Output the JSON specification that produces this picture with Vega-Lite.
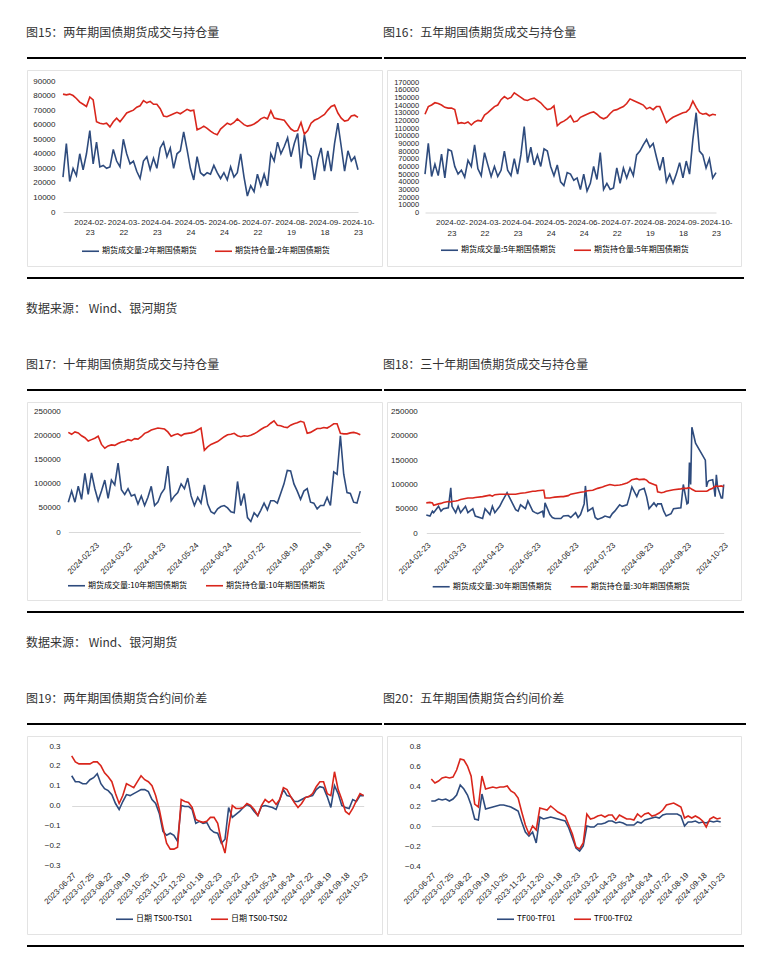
{
  "$schema": "https://vega.github.io/schema/vega-lite/v6.json",
  "padding": {"left": 26, "top": 27, "right": 15, "bottom": 10},
  "background": "white",
  "config": {
    "view": {"stroke": null},
    "font": "Liberation Sans",
    "title": {"anchor": "start", "font": "Noto Sans CJK SC", "fontSize": 12, "fontWeight": "normal", "color": "#333333", "offset": 17},
    "axis": {"labelFont": "Liberation Sans", "labelFontSize": 8, "labelColor": "#262626", "domain": false, "ticks": false, "grid": false, "title": null, "labelOverlap": false},
    "legend": {"symbolType": "stroke", "symbolSize": 289, "symbolStrokeWidth": 2, "labelFont": "Noto Sans CJK SC", "labelFontSize": 8, "labelColor": "#000000", "labelOffset": 2, "columnPadding": 14, "padding": 0},
    "line": {"strokeWidth": 1.6}
  },
  "datasets": {
    "vol": [
      {"d":"2024-01-24","v2":24000,"o2":81000,"v5":50000,"o5":128000,"v10":62000,"o10":207000},
      {"d":"2024-01-26","v2":47000,"o2":80500,"v5":90000,"o5":138000,"v10":85000,"o10":203000},
      {"d":"2024-01-30","v2":21000,"o2":81000,"v5":47000,"o5":140000,"v10":62000,"o10":208000},
      {"d":"2024-02-01","v2":30000,"o2":80000,"v5":63000,"o5":143000,"v10":95000,"o10":206000},
      {"d":"2024-02-05","v2":25000,"o2":78000,"v5":48000,"o5":142000,"v10":68000,"o10":200000},
      {"d":"2024-02-07","v2":40000,"o2":75500,"v5":76000,"o5":140000,"v10":122000,"o10":196000},
      {"d":"2024-02-19","v2":29000,"o2":74000,"v5":45000,"o5":137000,"v10":78000,"o10":189000},
      {"d":"2024-02-21","v2":40000,"o2":72500,"v5":82000,"o5":136000,"v10":123000,"o10":192000},
      {"d":"2024-02-23","v2":56000,"o2":79000,"v5":80000,"o5":136000,"v10":90000,"o10":195000},
      {"d":"2024-02-27","v2":33000,"o2":77000,"v5":60000,"o5":134000,"v10":65000,"o10":199000},
      {"d":"2024-02-29","v2":48000,"o2":62000,"v5":50000,"o5":116000,"v10":85000,"o10":182000},
      {"d":"2024-03-04","v2":31000,"o2":61000,"v5":55000,"o5":117000,"v10":108000,"o10":174000},
      {"d":"2024-03-06","v2":32000,"o2":60500,"v5":46000,"o5":116000,"v10":70000,"o10":179000},
      {"d":"2024-03-08","v2":30000,"o2":61000,"v5":68000,"o5":118000,"v10":108000,"o10":181000},
      {"d":"2024-03-12","v2":31000,"o2":58500,"v5":60000,"o5":114000,"v10":98000,"o10":180000},
      {"d":"2024-03-14","v2":43000,"o2":62000,"v5":88000,"o5":118000,"v10":143000,"o10":184000},
      {"d":"2024-03-18","v2":35000,"o2":64500,"v5":57000,"o5":120000,"v10":88000,"o10":187000},
      {"d":"2024-03-20","v2":31000,"o2":62000,"v5":48000,"o5":119000,"v10":78000,"o10":188000},
      {"d":"2024-03-22","v2":50000,"o2":65000,"v5":78000,"o5":127000,"v10":90000,"o10":192000},
      {"d":"2024-03-26","v2":40000,"o2":68000,"v5":62000,"o5":130000,"v10":75000,"o10":190000},
      {"d":"2024-03-28","v2":33000,"o2":69000,"v5":47000,"o5":134000,"v10":78000,"o10":194000},
      {"d":"2024-04-01","v2":35000,"o2":70000,"v5":60000,"o5":138000,"v10":58000,"o10":193000},
      {"d":"2024-04-03","v2":28000,"o2":72000,"v5":47000,"o5":140000,"v10":75000,"o10":198000},
      {"d":"2024-04-09","v2":23000,"o2":73000,"v5":55000,"o5":147000,"v10":55000,"o10":205000},
      {"d":"2024-04-11","v2":35000,"o2":76500,"v5":80000,"o5":151000,"v10":72000,"o10":208000},
      {"d":"2024-04-15","v2":38000,"o2":75000,"v5":55000,"o5":148000,"v10":95000,"o10":212000},
      {"d":"2024-04-17","v2":29000,"o2":76000,"v5":48000,"o5":150000,"v10":55000,"o10":214000},
      {"d":"2024-04-19","v2":37000,"o2":74000,"v5":70000,"o5":156000,"v10":62000,"o10":216000},
      {"d":"2024-04-23","v2":30000,"o2":74000,"v5":50000,"o5":153000,"v10":80000,"o10":215000},
      {"d":"2024-04-25","v2":44000,"o2":71000,"v5":75000,"o5":150000,"v10":90000,"o10":214000},
      {"d":"2024-04-29","v2":48000,"o2":66000,"v5":112000,"o5":147000,"v10":137000,"o10":208000},
      {"d":"2024-05-06","v2":38000,"o2":65500,"v5":65000,"o5":146000,"v10":65000,"o10":199000},
      {"d":"2024-05-08","v2":44000,"o2":66500,"v5":85000,"o5":148000,"v10":75000,"o10":202000},
      {"d":"2024-05-10","v2":30000,"o2":67500,"v5":62000,"o5":149000,"v10":82000,"o10":204000},
      {"d":"2024-05-14","v2":40000,"o2":68500,"v5":75000,"o5":146000,"v10":100000,"o10":200000},
      {"d":"2024-05-16","v2":42000,"o2":67500,"v5":60000,"o5":143000,"v10":90000,"o10":204000},
      {"d":"2024-05-20","v2":55000,"o2":69000,"v5":83000,"o5":138000,"v10":112000,"o10":205000},
      {"d":"2024-05-22","v2":43000,"o2":70500,"v5":80000,"o5":134000,"v10":75000,"o10":206000},
      {"d":"2024-05-24","v2":30000,"o2":69500,"v5":60000,"o5":135000,"v10":55000,"o10":208000},
      {"d":"2024-05-28","v2":22000,"o2":70000,"v5":48000,"o5":139000,"v10":72000,"o10":212000},
      {"d":"2024-05-30","v2":38000,"o2":56500,"v5":62000,"o5":113000,"v10":60000,"o10":216000},
      {"d":"2024-06-03","v2":27000,"o2":57500,"v5":40000,"o5":117000,"v10":98000,"o10":170000},
      {"d":"2024-06-05","v2":25000,"o2":59000,"v5":35000,"o5":119000,"v10":58000,"o10":177000},
      {"d":"2024-06-07","v2":27000,"o2":57500,"v5":52000,"o5":122000,"v10":42000,"o10":182000},
      {"d":"2024-06-12","v2":26000,"o2":55500,"v5":50000,"o5":126000,"v10":38000,"o10":185000},
      {"d":"2024-06-14","v2":32000,"o2":54000,"v5":42000,"o5":118000,"v10":48000,"o10":188000},
      {"d":"2024-06-18","v2":27000,"o2":53000,"v5":45000,"o5":119000,"v10":53000,"o10":193000},
      {"d":"2024-06-20","v2":23000,"o2":57000,"v5":30000,"o5":124000,"v10":55000,"o10":198000},
      {"d":"2024-06-24","v2":27000,"o2":59000,"v5":50000,"o5":126000,"v10":50000,"o10":202000},
      {"d":"2024-06-26","v2":22000,"o2":61000,"v5":28000,"o5":128000,"v10":42000,"o10":203000},
      {"d":"2024-06-28","v2":31000,"o2":60000,"v5":38000,"o5":130000,"v10":40000,"o10":205000},
      {"d":"2024-07-02","v2":24000,"o2":61500,"v5":60000,"o5":131000,"v10":105000,"o10":200000},
      {"d":"2024-07-04","v2":27000,"o2":64000,"v5":43000,"o5":128000,"v10":55000,"o10":198000},
      {"d":"2024-07-08","v2":40000,"o2":62000,"v5":78000,"o5":124000,"v10":80000,"o10":200000},
      {"d":"2024-07-10","v2":24000,"o2":60000,"v5":30000,"o5":122000,"v10":30000,"o10":199000},
      {"d":"2024-07-12","v2":11000,"o2":59000,"v5":38000,"o5":124000,"v10":22000,"o10":201000},
      {"d":"2024-07-16","v2":18000,"o2":59500,"v5":30000,"o5":129000,"v10":40000,"o10":204000},
      {"d":"2024-07-18","v2":14000,"o2":60500,"v5":32000,"o5":133000,"v10":32000,"o10":208000},
      {"d":"2024-07-22","v2":26000,"o2":62000,"v5":58000,"o5":134000,"v10":45000,"o10":213000},
      {"d":"2024-07-24","v2":18000,"o2":64000,"v5":38000,"o5":136000,"v10":60000,"o10":217000},
      {"d":"2024-07-26","v2":26000,"o2":65000,"v5":58000,"o5":138000,"v10":46000,"o10":220000},
      {"d":"2024-07-30","v2":18000,"o2":64000,"v5":45000,"o5":142000,"v10":65000,"o10":226000},
      {"d":"2024-08-01","v2":40000,"o2":69500,"v5":58000,"o5":148000,"v10":65000,"o10":231000},
      {"d":"2024-08-05","v2":35000,"o2":64500,"v5":48000,"o5":146000,"v10":60000,"o10":222000},
      {"d":"2024-08-07","v2":48000,"o2":64000,"v5":75000,"o5":144000,"v10":80000,"o10":221000},
      {"d":"2024-08-09","v2":40000,"o2":63500,"v5":80000,"o5":142000,"v10":100000,"o10":218000},
      {"d":"2024-08-13","v2":45000,"o2":63000,"v5":88000,"o5":140000,"v10":128000,"o10":217000},
      {"d":"2024-08-15","v2":51000,"o2":60000,"v5":95000,"o5":135000,"v10":127000,"o10":222000},
      {"d":"2024-08-19","v2":38000,"o2":57000,"v5":85000,"o5":137000,"v10":100000,"o10":225000},
      {"d":"2024-08-21","v2":47000,"o2":55500,"v5":90000,"o5":134000,"v10":85000,"o10":227000},
      {"d":"2024-08-23","v2":54000,"o2":56000,"v5":72000,"o5":138000,"v10":68000,"o10":230000},
      {"d":"2024-08-27","v2":30000,"o2":61500,"v5":55000,"o5":138000,"v10":85000,"o10":228000},
      {"d":"2024-08-29","v2":53000,"o2":53500,"v5":72000,"o5":128000,"v10":90000,"o10":205000},
      {"d":"2024-09-02","v2":40000,"o2":56000,"v5":40000,"o5":117000,"v10":62000,"o10":207000},
      {"d":"2024-09-04","v2":38000,"o2":61000,"v5":50000,"o5":121000,"v10":60000,"o10":211000},
      {"d":"2024-09-06","v2":22000,"o2":63000,"v5":38000,"o5":124000,"v10":48000,"o10":215000},
      {"d":"2024-09-10","v2":36000,"o2":64000,"v5":50000,"o5":126000,"v10":55000,"o10":215000},
      {"d":"2024-09-12","v2":44000,"o2":65500,"v5":65000,"o5":128000,"v10":55000,"o10":217000},
      {"d":"2024-09-18","v2":28000,"o2":67000,"v5":45000,"o5":130000,"v10":72000,"o10":216000},
      {"d":"2024-09-20","v2":42000,"o2":70000,"v5":67000,"o5":131000,"v10":55000,"o10":220000},
      {"d":"2024-09-24","v2":28000,"o2":72500,"v5":50000,"o5":135000,"v10":125000,"o10":225000},
      {"d":"2024-09-26","v2":47000,"o2":73500,"v5":95000,"o5":145000,"v10":120000,"o10":225000},
      {"d":"2024-09-30","v2":61000,"o2":68000,"v5":130000,"o5":137000,"v10":200000,"o10":205000},
      {"d":"2024-10-09","v2":45000,"o2":64500,"v5":80000,"o5":130000,"v10":120000,"o10":204000},
      {"d":"2024-10-11","v2":28000,"o2":62500,"v5":75000,"o5":128000,"v10":82000,"o10":204000},
      {"d":"2024-10-15","v2":42000,"o2":63000,"v5":58000,"o5":129000,"v10":80000,"o10":206000},
      {"d":"2024-10-17","v2":35000,"o2":66000,"v5":70000,"o5":126000,"v10":62000,"o10":207000},
      {"d":"2024-10-21","v2":38000,"o2":66500,"v5":45000,"o5":128000,"v10":60000,"o10":205000},
      {"d":"2024-10-23","v2":29000,"o2":65000,"v5":52000,"o5":127000,"v10":85000,"o10":202000}
    ],
    "t30": [
      {"d":"2024-02-23","v":37000,"o":62000},
      {"d":"2024-02-26","v":35000,"o":63000},
      {"d":"2024-02-28","v":45000,"o":62000},
      {"d":"2024-02-29","v":42000,"o":57000},
      {"d":"2024-03-04","v":55000,"o":60000},
      {"d":"2024-03-06","v":45000,"o":61000},
      {"d":"2024-03-08","v":50000,"o":63000},
      {"d":"2024-03-12","v":52000,"o":65000},
      {"d":"2024-03-14","v":93000,"o":64000},
      {"d":"2024-03-15","v":55000,"o":65000},
      {"d":"2024-03-18","v":42000,"o":66000},
      {"d":"2024-03-20","v":55000,"o":67000},
      {"d":"2024-03-22","v":42000,"o":69000},
      {"d":"2024-03-26","v":55000,"o":71000},
      {"d":"2024-03-28","v":42000,"o":72000},
      {"d":"2024-04-01","v":50000,"o":72000},
      {"d":"2024-04-03","v":35000,"o":73000},
      {"d":"2024-04-09","v":30000,"o":75000},
      {"d":"2024-04-11","v":50000,"o":76000},
      {"d":"2024-04-15","v":38000,"o":78000},
      {"d":"2024-04-17","v":55000,"o":76000},
      {"d":"2024-04-19","v":42000,"o":79000},
      {"d":"2024-04-23","v":55000,"o":80000},
      {"d":"2024-04-25","v":65000,"o":80000},
      {"d":"2024-04-29","v":83000,"o":80000},
      {"d":"2024-05-06","v":48000,"o":80000},
      {"d":"2024-05-08","v":45000,"o":81000},
      {"d":"2024-05-10","v":58000,"o":82000},
      {"d":"2024-05-14","v":50000,"o":83000},
      {"d":"2024-05-16","v":66000,"o":84000},
      {"d":"2024-05-20","v":45000,"o":86000},
      {"d":"2024-05-22","v":42000,"o":86000},
      {"d":"2024-05-24","v":40000,"o":87000},
      {"d":"2024-05-28","v":45000,"o":88000},
      {"d":"2024-05-29","v":32000,"o":88000},
      {"d":"2024-05-30","v":62000,"o":72000},
      {"d":"2024-06-03","v":38000,"o":72000},
      {"d":"2024-06-05","v":32000,"o":73000},
      {"d":"2024-06-07","v":30000,"o":74000},
      {"d":"2024-06-12","v":30000,"o":75000},
      {"d":"2024-06-14","v":35000,"o":75000},
      {"d":"2024-06-18","v":36000,"o":77000},
      {"d":"2024-06-20","v":32000,"o":80000},
      {"d":"2024-06-24","v":42000,"o":82000},
      {"d":"2024-06-26","v":32000,"o":83000},
      {"d":"2024-06-28","v":38000,"o":84000},
      {"d":"2024-07-01","v":60000,"o":85000},
      {"d":"2024-07-02","v":97000,"o":86000},
      {"d":"2024-07-04","v":45000,"o":87000},
      {"d":"2024-07-08","v":52000,"o":88000},
      {"d":"2024-07-10","v":32000,"o":90000},
      {"d":"2024-07-12","v":28000,"o":92000},
      {"d":"2024-07-16","v":32000,"o":95000},
      {"d":"2024-07-18","v":35000,"o":97000},
      {"d":"2024-07-22","v":32000,"o":100000},
      {"d":"2024-07-24","v":40000,"o":99000},
      {"d":"2024-07-26","v":45000,"o":98000},
      {"d":"2024-07-30","v":58000,"o":99000},
      {"d":"2024-08-01","v":55000,"o":100000},
      {"d":"2024-08-05","v":58000,"o":103000},
      {"d":"2024-08-07","v":75000,"o":106000},
      {"d":"2024-08-09","v":95000,"o":110000},
      {"d":"2024-08-13","v":75000,"o":112000},
      {"d":"2024-08-15","v":88000,"o":110000},
      {"d":"2024-08-19","v":92000,"o":111000},
      {"d":"2024-08-21","v":75000,"o":109000},
      {"d":"2024-08-23","v":50000,"o":104000},
      {"d":"2024-08-27","v":62000,"o":100000},
      {"d":"2024-08-29","v":55000,"o":98000},
      {"d":"2024-08-30","v":60000,"o":85000},
      {"d":"2024-09-02","v":60000,"o":83000},
      {"d":"2024-09-04","v":45000,"o":84000},
      {"d":"2024-09-06","v":35000,"o":86000},
      {"d":"2024-09-10","v":40000,"o":88000},
      {"d":"2024-09-12","v":50000,"o":89000},
      {"d":"2024-09-18","v":52000,"o":91000},
      {"d":"2024-09-20","v":100000,"o":92000},
      {"d":"2024-09-23","v":60000,"o":92000},
      {"d":"2024-09-24","v":62000,"o":93000},
      {"d":"2024-09-25","v":145000,"o":93000},
      {"d":"2024-09-26","v":100000,"o":92000},
      {"d":"2024-09-27","v":218000,"o":90000},
      {"d":"2024-09-30","v":185000,"o":86000},
      {"d":"2024-10-08","v":150000,"o":86000},
      {"d":"2024-10-09","v":95000,"o":86000},
      {"d":"2024-10-10","v":105000,"o":87000},
      {"d":"2024-10-11","v":108000,"o":89000},
      {"d":"2024-10-14","v":110000,"o":92000},
      {"d":"2024-10-15","v":95000,"o":95000},
      {"d":"2024-10-16","v":75000,"o":96000},
      {"d":"2024-10-17","v":120000,"o":97000},
      {"d":"2024-10-18","v":95000,"o":96000},
      {"d":"2024-10-21","v":72000,"o":97000},
      {"d":"2024-10-22","v":72000,"o":96000},
      {"d":"2024-10-23","v":100000,"o":96000}
    ],
    "spr": [
      {"d":"2023-06-27","a":0.15,"b":0.25,"c":0.25,"e":0.47},
      {"d":"2023-07-03","a":0.12,"b":0.22,"c":0.25,"e":0.43},
      {"d":"2023-07-07","a":0.12,"b":0.21,"c":0.27,"e":0.45},
      {"d":"2023-07-13","a":0.11,"b":0.21,"c":0.26,"e":0.48},
      {"d":"2023-07-19","a":0.11,"b":0.21,"c":0.27,"e":0.49},
      {"d":"2023-07-25","a":0.13,"b":0.21,"c":0.25,"e":0.48},
      {"d":"2023-07-31","a":0.14,"b":0.22,"c":0.27,"e":0.49},
      {"d":"2023-08-04","a":0.16,"b":0.22,"c":0.31,"e":0.56},
      {"d":"2023-08-10","a":0.11,"b":0.2,"c":0.41,"e":0.67},
      {"d":"2023-08-16","a":0.085,"b":0.165,"c":0.37,"e":0.66},
      {"d":"2023-08-22","a":0.075,"b":0.145,"c":0.31,"e":0.6},
      {"d":"2023-08-28","a":0.055,"b":0.12,"c":0.21,"e":0.5},
      {"d":"2023-09-01","a":0.01,"b":0.06,"c":0.07,"e":0.22},
      {"d":"2023-09-07","a":-0.02,"b":0.01,"c":0.06,"e":0.19},
      {"d":"2023-09-13","a":0.02,"b":0.05,"c":0.32,"e":0.5},
      {"d":"2023-09-19","a":0.055,"b":0.11,"c":0.17,"e":0.37},
      {"d":"2023-09-25","a":0.05,"b":0.1,"c":0.18,"e":0.38},
      {"d":"2023-10-09","a":0.06,"b":0.09,"c":0.19,"e":0.39},
      {"d":"2023-10-13","a":0.07,"b":0.12,"c":0.2,"e":0.38},
      {"d":"2023-10-19","a":0.08,"b":0.15,"c":0.21,"e":0.39},
      {"d":"2023-10-25","a":0.08,"b":0.13,"c":0.21,"e":0.39},
      {"d":"2023-10-31","a":0.07,"b":0.12,"c":0.2,"e":0.4},
      {"d":"2023-11-06","a":0.03,"b":0.1,"c":0.19,"e":0.35},
      {"d":"2023-11-10","a":0.01,"b":0.05,"c":0.17,"e":0.33},
      {"d":"2023-11-16","a":-0.04,"b":-0.02,"c":0.15,"e":0.28},
      {"d":"2023-11-22","a":-0.13,"b":-0.11,"c":0.04,"e":0.14},
      {"d":"2023-11-28","a":-0.15,"b":-0.19,"c":-0.06,"e":0.01},
      {"d":"2023-12-04","a":-0.14,"b":-0.22,"c":-0.1,"e":-0.08},
      {"d":"2023-12-08","a":-0.15,"b":-0.22,"c":-0.06,"e":0.0},
      {"d":"2023-12-14","a":-0.18,"b":-0.21,"c":-0.17,"e":-0.04},
      {"d":"2023-12-20","a":0.0,"b":0.03,"c":0.09,"e":0.18},
      {"d":"2023-12-26","a":-0.005,"b":0.02,"c":0.07,"e":0.17},
      {"d":"2024-01-02","a":-0.005,"b":0.015,"c":0.08,"e":0.16},
      {"d":"2024-01-08","a":-0.02,"b":-0.01,"c":0.09,"e":0.2},
      {"d":"2024-01-12","a":-0.09,"b":-0.07,"c":0.08,"e":0.17},
      {"d":"2024-01-18","a":-0.08,"b":-0.08,"c":0.07,"e":0.14},
      {"d":"2024-01-24","a":-0.09,"b":-0.085,"c":0.06,"e":0.12},
      {"d":"2024-01-30","a":-0.085,"b":-0.08,"c":0.05,"e":0.1},
      {"d":"2024-02-05","a":-0.12,"b":-0.06,"c":-0.02,"e":0.01},
      {"d":"2024-02-19","a":-0.135,"b":-0.06,"c":-0.12,"e":-0.08},
      {"d":"2024-02-23","a":-0.14,"b":-0.09,"c":-0.22,"e":-0.21},
      {"d":"2024-02-29","a":-0.19,"b":-0.18,"c":-0.25,"e":-0.23},
      {"d":"2024-03-06","a":-0.17,"b":-0.24,"c":-0.2,"e":-0.17},
      {"d":"2024-03-12","a":-0.01,"b":-0.11,"c":0.0,"e":0.12},
      {"d":"2024-03-18","a":-0.06,"b":0.0,"c":-0.01,"e":0.07},
      {"d":"2024-03-22","a":-0.045,"b":-0.015,"c":-0.01,"e":0.08},
      {"d":"2024-03-28","a":-0.03,"b":-0.015,"c":0.02,"e":0.1},
      {"d":"2024-04-03","a":-0.01,"b":-0.01,"c":0.02,"e":0.11},
      {"d":"2024-04-11","a":0.005,"b":0.01,"c":0.03,"e":0.09},
      {"d":"2024-04-17","a":-0.005,"b":0.0,"c":0.05,"e":0.11},
      {"d":"2024-04-23","a":-0.03,"b":-0.02,"c":0.05,"e":0.11},
      {"d":"2024-04-29","a":-0.05,"b":-0.05,"c":0.03,"e":0.06},
      {"d":"2024-05-08","a":-0.005,"b":0.0,"c":0.04,"e":0.11},
      {"d":"2024-05-14","a":0.0,"b":0.03,"c":0.03,"e":0.09},
      {"d":"2024-05-20","a":-0.005,"b":0.015,"c":0.01,"e":0.07},
      {"d":"2024-05-24","a":-0.01,"b":0.03,"c":0.01,"e":0.07},
      {"d":"2024-05-30","a":-0.02,"b":0.005,"c":0.01,"e":0.06},
      {"d":"2024-06-05","a":0.03,"b":0.03,"c":0.04,"e":0.12},
      {"d":"2024-06-12","a":0.08,"b":0.09,"c":0.03,"e":0.09},
      {"d":"2024-06-18","a":0.05,"b":0.08,"c":0.06,"e":0.12},
      {"d":"2024-06-24","a":0.045,"b":0.045,"c":0.07,"e":0.13},
      {"d":"2024-06-28","a":0.02,"b":0.015,"c":0.08,"e":0.1},
      {"d":"2024-07-04","a":0.02,"b":-0.01,"c":0.09,"e":0.11},
      {"d":"2024-07-10","a":0.03,"b":0.01,"c":0.08,"e":0.13},
      {"d":"2024-07-16","a":0.04,"b":0.04,"c":0.11,"e":0.16},
      {"d":"2024-07-22","a":0.045,"b":0.045,"c":0.12,"e":0.21},
      {"d":"2024-07-26","a":0.05,"b":0.06,"c":0.12,"e":0.22},
      {"d":"2024-08-01","a":0.08,"b":0.095,"c":0.12,"e":0.23},
      {"d":"2024-08-07","a":0.095,"b":0.12,"c":0.12,"e":0.21},
      {"d":"2024-08-13","a":0.09,"b":0.12,"c":0.1,"e":0.19},
      {"d":"2024-08-19","a":0.045,"b":0.06,"c":0.0,"e":0.08},
      {"d":"2024-08-23","a":-0.01,"b":0.05,"c":0.04,"e":0.1},
      {"d":"2024-08-29","a":0.1,"b":0.17,"c":0.04,"e":0.08},
      {"d":"2024-09-04","a":0.06,"b":0.08,"c":0.05,"e":0.1},
      {"d":"2024-09-10","a":0.0,"b":0.03,"c":0.03,"e":0.08},
      {"d":"2024-09-18","a":-0.01,"b":-0.03,"c":0.04,"e":0.05},
      {"d":"2024-09-24","a":-0.015,"b":-0.045,"c":0.03,"e":-0.01},
      {"d":"2024-09-30","a":0.03,"b":-0.015,"c":0.05,"e":0.07},
      {"d":"2024-10-11","a":0.02,"b":0.025,"c":0.04,"e":0.09},
      {"d":"2024-10-17","a":0.05,"b":0.06,"c":0.05,"e":0.07},
      {"d":"2024-10-23","a":0.05,"b":0.05,"c":0.04,"e":0.08}
    ]
  },
  "spacing": 44,
  "resolve": {"scale": {"color": "independent"}},
  "vconcat": [
    {
      "spacing": 10,
      "resolve": {"scale": {"color": "independent"}},
      "vconcat": [
        {
          "spacing": 0,
          "hconcat": [
            {"width": 355, "height": 2, "title": {"text": "图15：两年期国债期货成交与持仓量"}, "data": {"values": [{}]}, "mark": {"type": "rule", "color": "#000000", "strokeWidth": 2}, "encoding": {"y": {"datum": 1, "type": "quantitative", "scale": {"domain": [0, 2]}, "axis": null}}},
            {"width": 362, "height": 2, "title": {"text": "图16：五年期国债期货成交与持仓量"}, "data": {"values": [{}]}, "mark": {"type": "rule", "color": "#000000", "strokeWidth": 2}, "encoding": {"y": {"datum": 1, "type": "quantitative", "scale": {"domain": [0, 2]}, "axis": null}}}
          ]
        },
        {
          "spacing": 3,
          "resolve": {"scale": {"color": "independent"}},
          "hconcat": [
            {
              "width": 355, "height": 196,
              "view": {"stroke": "#e3e3e3"},
              "data": {"name": "vol"},
              "transform": [{"fold": ["v2", "o2"], "as": ["k", "val"]}],
              "mark": {"type": "line"},
              "encoding": {
                "x": {"field": "d", "type": "ordinal", "title": null,
                  "scale": {"type": "point", "padding": 0, "range": [36, 331]},
                  "axis": {"orient": "bottom", "offset": -54, "domain": true, "domainColor": "#d9d9d9", "domainWidth": 1,
                    "values": ["2024-02-23","2024-03-22","2024-04-23","2024-05-24","2024-06-24","2024-07-22","2024-08-19","2024-09-18","2024-10-23"],
                    "labelExpr": "[slice(datum.value, 0, 8), slice(datum.value, 8)]",
                    "labelAngle": 0, "labelAlign": "center", "labelBaseline": "top", "labelPadding": 6, "labelLineHeight": 10.5}},
                "y": {"field": "val", "type": "quantitative", "title": null,
                  "scale": {"domain": [0, 90000], "range": [142, 11], "nice": false, "zero": false},
                  "axis": {"orient": "left", "offset": -28, "labelPadding": 0, "format": "d", "values": [0,10000,20000,30000,40000,50000,60000,70000,80000,90000]}},
                "color": {"field": "k", "type": "nominal", "title": null,
                  "scale": {"domain": ["v2", "o2"], "range": ["#2e4b7d", "#d9261c"]},
                  "legend": {"orient": "none", "legendX": 54, "legendY": 171.5, "direction": "horizontal",
                    "labelExpr": "datum.value === 'v2' ? '期货成交量:2年期国债期货' : '期货持仓量:2年期国债期货'"}}
              }
            },
            {
              "width": 354, "height": 196,
              "view": {"stroke": "#e3e3e3"},
              "data": {"name": "vol"},
              "transform": [{"fold": ["v5", "o5"], "as": ["k", "val"]}],
              "mark": {"type": "line"},
              "encoding": {
                "x": {"field": "d", "type": "ordinal", "title": null,
                  "scale": {"type": "point", "padding": 0, "range": [38, 329]},
                  "axis": {"orient": "bottom", "offset": -53.5, "domain": true, "domainColor": "#d9d9d9", "domainWidth": 1,
                    "values": ["2024-02-23","2024-03-22","2024-04-23","2024-05-24","2024-06-24","2024-07-22","2024-08-19","2024-09-18","2024-10-23"],
                    "labelExpr": "[slice(datum.value, 0, 8), slice(datum.value, 8)]",
                    "labelAngle": 0, "labelAlign": "center", "labelBaseline": "top", "labelPadding": 6, "labelLineHeight": 10.5}},
                "y": {"field": "val", "type": "quantitative", "title": null,
                  "scale": {"domain": [0, 170000], "range": [142.5, 12], "nice": false, "zero": false},
                  "axis": {"orient": "left", "offset": -31.7, "labelPadding": 0, "format": "d", "labelFontSize": 7.5, "values": [0,10000,20000,30000,40000,50000,60000,70000,80000,90000,100000,110000,120000,130000,140000,150000,160000,170000]}},
                "color": {"field": "k", "type": "nominal", "title": null,
                  "scale": {"domain": ["v5", "o5"], "range": ["#2e4b7d", "#d9261c"]},
                  "legend": {"orient": "none", "legendX": 53, "legendY": 170.5, "direction": "horizontal",
                    "labelExpr": "datum.value === 'v5' ? '期货成交量:5年期国债期货' : '期货持仓量:5年期国债期货'"}}
              }
            }
          ]
        },
        {"width": 717, "height": 2, "title": {"text": "数据来源：   Wind、银河期货", "orient": "bottom", "offset": 25}, "data": {"values": [{}]}, "mark": {"type": "rule", "color": "#000000", "strokeWidth": 2}, "encoding": {"y": {"datum": 1, "type": "quantitative", "scale": {"domain": [0, 2]}, "axis": null}}}
      ]
    },
    {
      "spacing": 10,
      "resolve": {"scale": {"color": "independent"}},
      "vconcat": [
        {
          "spacing": 0,
          "hconcat": [
            {"width": 355, "height": 2, "title": {"text": "图17：十年期国债期货成交与持仓量"}, "data": {"values": [{}]}, "mark": {"type": "rule", "color": "#000000", "strokeWidth": 2}, "encoding": {"y": {"datum": 1, "type": "quantitative", "scale": {"domain": [0, 2]}, "axis": null}}},
            {"width": 362, "height": 2, "title": {"text": "图18：三十年期国债期货成交与持仓量"}, "data": {"values": [{}]}, "mark": {"type": "rule", "color": "#000000", "strokeWidth": 2}, "encoding": {"y": {"datum": 1, "type": "quantitative", "scale": {"domain": [0, 2]}, "axis": null}}}
          ]
        },
        {
          "spacing": 3,
          "resolve": {"scale": {"color": "independent"}},
          "hconcat": [
            {
              "width": 355, "height": 198,
              "view": {"stroke": "#e3e3e3"},
              "data": {"name": "vol"},
              "transform": [{"fold": ["v10", "o10"], "as": ["k", "val"]}],
              "mark": {"type": "line"},
              "encoding": {
                "x": {"field": "d", "type": "ordinal", "title": null,
                  "scale": {"type": "point", "padding": 0, "range": [41.3, 333.3]},
                  "axis": {"orient": "bottom", "offset": -68, "domain": true, "domainColor": "#d9d9d9", "domainWidth": 1,
                    "values": ["2024-02-23","2024-03-22","2024-04-23","2024-05-24","2024-06-24","2024-07-22","2024-08-19","2024-09-18","2024-10-23"],
                    "labelAngle": -45, "labelPadding": 9}},
                "y": {"field": "val", "type": "quantitative", "title": null,
                  "scale": {"domain": [0, 250000], "range": [130, 9.7], "nice": false, "zero": false},
                  "axis": {"orient": "left", "offset": -33.3, "labelPadding": 0, "format": "d", "values": [0,50000,100000,150000,200000,250000]}},
                "color": {"field": "k", "type": "nominal", "title": null,
                  "scale": {"domain": ["v10", "o10"], "range": ["#2e4b7d", "#d9261c"]},
                  "legend": {"orient": "none", "legendX": 40, "legendY": 174, "direction": "horizontal",
                    "labelExpr": "datum.value === 'v10' ? '期货成交量:10年期国债期货' : '期货持仓量:10年期国债期货'"}}
              }
            },
            {
              "width": 354, "height": 198,
              "view": {"stroke": "#e3e3e3"},
              "data": {"name": "t30"},
              "transform": [{"fold": ["v", "o"], "as": ["k", "val"]}],
              "mark": {"type": "line"},
              "encoding": {
                "x": {"field": "d", "type": "temporal", "title": null,
                  "scale": {"type": "utc", "domain": [{"year": 2024, "month": 2, "date": 23, "utc": true}, {"year": 2024, "month": 10, "date": 23, "utc": true}], "range": [39.3, 336.7], "nice": false},
                  "axis": {"orient": "bottom", "offset": -67, "domain": true, "domainColor": "#d9d9d9", "domainWidth": 1,
                    "values": [
                      {"year": 2024, "month": 2, "date": 23, "utc": true},
                      {"year": 2024, "month": 3, "date": 23, "utc": true},
                      {"year": 2024, "month": 4, "date": 23, "utc": true},
                      {"year": 2024, "month": 5, "date": 23, "utc": true},
                      {"year": 2024, "month": 6, "date": 23, "utc": true},
                      {"year": 2024, "month": 7, "date": 23, "utc": true},
                      {"year": 2024, "month": 8, "date": 23, "utc": true},
                      {"year": 2024, "month": 9, "date": 23, "utc": true},
                      {"year": 2024, "month": 10, "date": 23, "utc": true}
                    ],
                    "labelExpr": "utcFormat(datum.value, '%Y-%m-%d')",
                    "labelAngle": -45, "labelPadding": 8, "labelFlush": false}},
                "y": {"field": "val", "type": "quantitative", "title": null,
                  "scale": {"domain": [0, 250000], "range": [131, 9.7], "nice": false, "zero": false},
                  "axis": {"orient": "left", "offset": -30.3, "labelPadding": 0, "format": "d", "values": [0,50000,100000,150000,200000,250000]}},
                "color": {"field": "k", "type": "nominal", "title": null,
                  "scale": {"domain": ["v", "o"], "range": ["#2e4b7d", "#d9261c"]},
                  "legend": {"orient": "none", "legendX": 44.7, "legendY": 175, "direction": "horizontal",
                    "labelExpr": "datum.value === 'v' ? '期货成交量:30年期国债期货' : '期货持仓量:30年期国债期货'"}}
              }
            }
          ]
        },
        {"width": 717, "height": 2, "title": {"text": "数据来源：   Wind、银河期货", "orient": "bottom", "offset": 25}, "data": {"values": [{}]}, "mark": {"type": "rule", "color": "#000000", "strokeWidth": 2}, "encoding": {"y": {"datum": 1, "type": "quantitative", "scale": {"domain": [0, 2]}, "axis": null}}}
      ]
    },
    {
      "spacing": 10,
      "resolve": {"scale": {"color": "independent"}},
      "vconcat": [
        {
          "spacing": 0,
          "hconcat": [
            {"width": 355, "height": 2, "title": {"text": "图19：两年期国债期货合约间价差"}, "data": {"values": [{}]}, "mark": {"type": "rule", "color": "#000000", "strokeWidth": 2}, "encoding": {"y": {"datum": 1, "type": "quantitative", "scale": {"domain": [0, 2]}, "axis": null}}},
            {"width": 362, "height": 2, "title": {"text": "图20：五年期国债期货合约间价差"}, "data": {"values": [{}]}, "mark": {"type": "rule", "color": "#000000", "strokeWidth": 2}, "encoding": {"y": {"datum": 1, "type": "quantitative", "scale": {"domain": [0, 2]}, "axis": null}}}
          ]
        },
        {
          "spacing": 3,
          "resolve": {"scale": {"color": "independent"}},
          "hconcat": [
            {
              "width": 355, "height": 198,
              "view": {"stroke": "#e3e3e3"},
              "data": {"name": "spr"},
              "transform": [{"fold": ["a", "b"], "as": ["k", "val"]}],
              "mark": {"type": "line"},
              "encoding": {
                "x": {"field": "d", "type": "ordinal", "title": null,
                  "scale": {"type": "point", "padding": 0, "range": [44.7, 336.7]},
                  "axis": {"orient": "bottom", "offset": -69,
                    "values": ["2023-06-27","2023-07-25","2023-08-22","2023-09-19","2023-10-25","2023-11-22","2023-12-20","2024-01-18","2024-02-23","2024-03-22","2024-04-23","2024-05-24","2024-06-24","2024-07-22","2024-08-19","2024-09-18","2024-10-23"],
                    "labelAngle": -45, "labelPadding": 6}},
                "y": {"field": "val", "type": "quantitative", "title": null,
                  "scale": {"domain": [-0.3, 0.3], "range": [129, 10], "nice": false, "zero": false},
                  "axis": {"orient": "left", "offset": -33, "labelPadding": 0, "format": ".1f", "values": [-0.3,-0.2,-0.1,0,0.1,0.2,0.3],
                    "grid": true, "gridColor": "#d9d9d9", "gridWidth": 1,
                    "gridOpacity": {"condition": {"test": "datum.value === 0", "value": 1}, "value": 0}}},
                "color": {"field": "k", "type": "nominal", "title": null,
                  "scale": {"domain": ["a", "b"], "range": ["#2e4b7d", "#d9261c"]},
                  "legend": {"orient": "none", "legendX": 88, "legendY": 173.5, "direction": "horizontal",
                    "labelExpr": "datum.value === 'a' ? '日期 TS00-TS01' : '日期 TS00-TS02'"}}
              }
            },
            {
              "width": 354, "height": 198,
              "view": {"stroke": "#e3e3e3"},
              "data": {"name": "spr"},
              "transform": [{"fold": ["c", "e"], "as": ["k", "val"]}],
              "mark": {"type": "line"},
              "encoding": {
                "x": {"field": "d", "type": "ordinal", "title": null,
                  "scale": {"type": "point", "padding": 0, "range": [44.3, 333.7]},
                  "axis": {"orient": "bottom", "offset": -68,
                    "values": ["2023-06-27","2023-07-25","2023-08-22","2023-09-19","2023-10-25","2023-11-22","2023-12-20","2024-01-18","2024-02-23","2024-03-22","2024-04-23","2024-05-24","2024-06-24","2024-07-22","2024-08-19","2024-09-18","2024-10-23"],
                    "labelAngle": -45, "labelPadding": 5}},
                "y": {"field": "val", "type": "quantitative", "title": null,
                  "scale": {"domain": [-0.4, 0.8], "range": [130, 10], "nice": false, "zero": false},
                  "axis": {"orient": "left", "offset": -33.3, "labelPadding": 0, "format": ".1f", "values": [-0.4,-0.2,0,0.2,0.4,0.6,0.8],
                    "grid": true, "gridColor": "#d9d9d9", "gridWidth": 1,
                    "gridOpacity": {"condition": {"test": "datum.value === 0", "value": 1}, "value": 0}}},
                "color": {"field": "k", "type": "nominal", "title": null,
                  "scale": {"domain": ["c", "e"], "range": ["#2e4b7d", "#d9261c"]},
                  "legend": {"orient": "none", "legendX": 109, "legendY": 173.5, "direction": "horizontal",
                    "labelExpr": "datum.value === 'c' ? 'TF00-TF01' : 'TF00-TF02'"}}
              }
            }
          ]
        },
        {"width": 717, "height": 2, "data": {"values": [{}]}, "mark": {"type": "rule", "color": "#000000", "strokeWidth": 2}, "encoding": {"y": {"datum": 1, "type": "quantitative", "scale": {"domain": [0, 2]}, "axis": null}}}
      ]
    }
  ]
}
